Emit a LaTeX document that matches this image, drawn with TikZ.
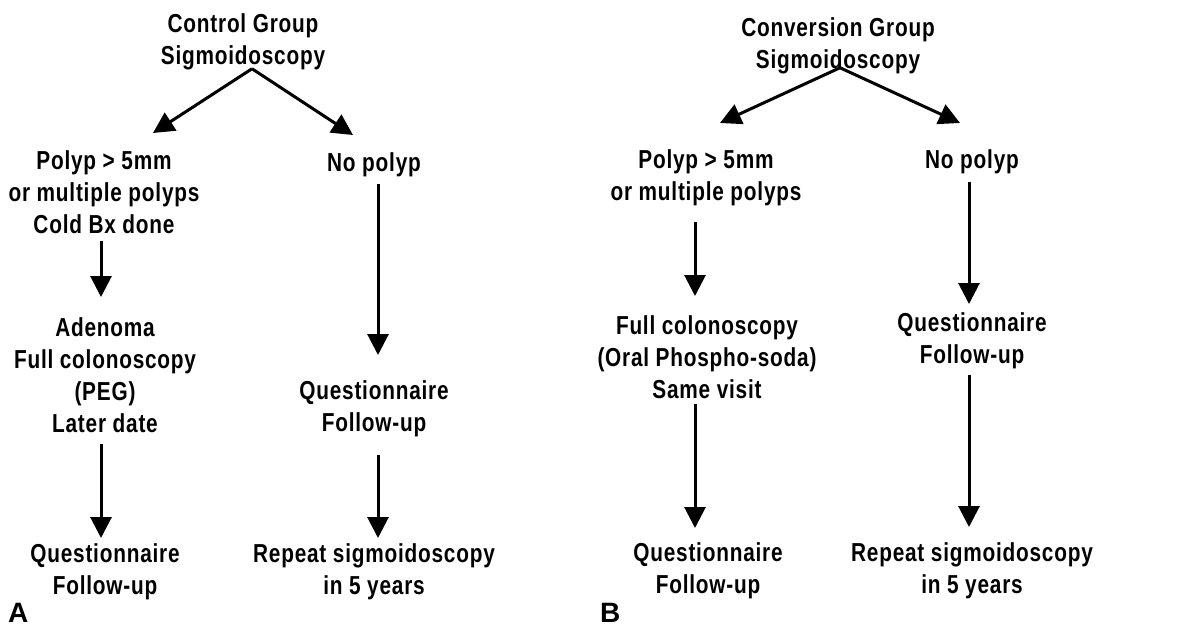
\documentclass[tikz,border=0pt]{standalone}
\usepackage{fontspec}
\newfontfamily\diagfont{Liberation Sans}[FakeStretch=0.8,LetterSpace=3]
\newfontfamily\panelfont{Liberation Sans}
\usetikzlibrary{arrows.meta}
\tikzset{
  lbl/.style={anchor=north, inner sep=0pt, align=center, font=\diagfont\bfseries\fontsize{26}{32}\selectfont},
  panel/.style={anchor=base west, inner sep=0pt, font=\panelfont\bfseries\fontsize{28}{30}\selectfont},
  arr/.style={line width=3pt, -{Triangle[width=21pt,length=21pt]}}
}
\begin{document}
\begin{tikzpicture}[x=1pt,y=-1pt]
\useasboundingbox[fill=white] (0,0) rectangle (1187,626);
% Panel A
\node[lbl] (ctrlTop) at (243,13) {Control Group\\Sigmoidoscopy};
\node[lbl] (polypL) at (104,150) {Polyp > 5mm\\or multiple polyps\\Cold Bx done};
\node[lbl] (nopolL) at (374,152) {No polyp};
\node[lbl] (adenL) at (105,317) {Adenoma\\Full colonoscopy\\(PEG)\\Later date};
\node[lbl] (qL1) at (374,380) {Questionnaire\\Follow-up};
\node[lbl] (qL2) at (105,543) {Questionnaire\\Follow-up};
\node[lbl] (repL) at (374,543) {Repeat sigmoidoscopy\\in 5 years};
\node[panel] (labA) at (8,622) {A};
\draw[arr] ([xshift=9pt,yshift=1pt]ctrlTop.south) -- ([xshift=49pt,yshift=17pt]polypL.north);
\draw[arr] ([xshift=9pt,yshift=1pt]ctrlTop.south) -- ([xshift=-21pt,yshift=17pt]nopolL.north);
\draw[arr] ([xshift=-3pt,yshift=-8pt]polypL.south) -- ([xshift=-4pt,yshift=20pt]adenL.north);
\draw[arr] ([xshift=4pt,yshift=-7pt]nopolL.south) -- ([xshift=4pt,yshift=25pt]qL1.north);
\draw[arr] ([xshift=-4pt,yshift=-12pt]adenL.south) -- ([xshift=-4pt,yshift=5pt]qL2.north);
\draw[arr] ([xshift=4pt,yshift=-18pt]qL1.south) -- ([xshift=4pt,yshift=5pt]repL.north);
% Panel B
\node[lbl] (convTop) at (838,17) {Conversion Group\\Sigmoidoscopy};
\node[lbl] (polypR) at (706,149) {Polyp > 5mm\\or multiple polyps};
\node[lbl] (nopolR) at (972,149) {No polyp};
\node[lbl] (fullR) at (707,315) {Full colonoscopy\\(Oral Phospho-soda)\\Same visit};
\node[lbl] (qR1) at (972,312) {Questionnaire\\Follow-up};
\node[lbl] (qR2) at (708,542) {Questionnaire\\Follow-up};
\node[lbl] (repR) at (972,542) {Repeat sigmoidoscopy\\in 5 years};
\node[panel] (labB) at (600,622) {B};
\draw[arr] ([xshift=2pt,yshift=6pt]convTop.south) -- ([xshift=14pt,yshift=26pt]polypR.north);
\draw[arr] ([xshift=2pt,yshift=6pt]convTop.south) -- ([xshift=-12pt,yshift=26pt]nopolR.north);
\draw[arr] ([xshift=-11pt,yshift=-16pt]polypR.south) -- ([xshift=-12pt,yshift=19pt]fullR.north);
\draw[arr] ([xshift=-3pt,yshift=-8pt]nopolR.south) -- ([xshift=-3pt,yshift=8pt]qR1.north);
\draw[arr] ([xshift=-12pt,yshift=-6pt]fullR.south) -- ([xshift=-13pt,yshift=14pt]qR2.north);
\draw[arr] ([xshift=-3pt,yshift=-6pt]qR1.south) -- ([xshift=-3pt,yshift=15pt]repR.north);
\end{tikzpicture}
\end{document}
